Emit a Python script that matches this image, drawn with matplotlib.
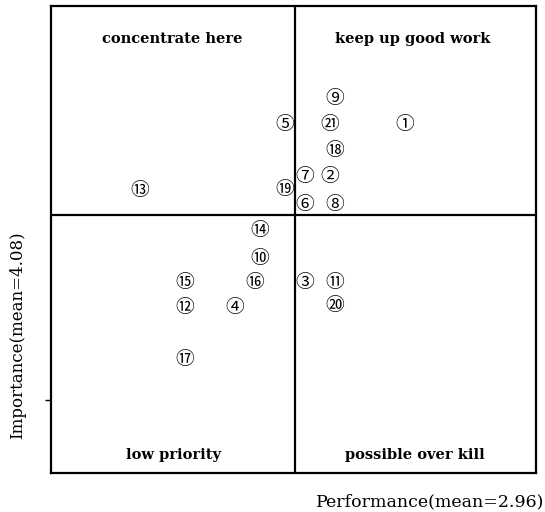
import matplotlib
matplotlib.use("Agg")
import matplotlib.pyplot as plt

# IPA data (performance, importance)
items = list(range(1, 22))
performance = [3.18, 3.03, 2.98, 2.84, 2.94, 2.98, 2.98, 3.04, 3.04, 2.89,
               3.04, 2.74, 2.65, 2.89, 2.74, 2.88, 2.74, 3.04, 2.94, 3.04, 3.03]
importance = [4.26, 4.156, 3.944, 3.894, 4.26, 4.10, 4.156, 4.10, 4.312, 3.992,
              3.944, 3.894, 4.128, 4.048, 3.944, 3.944, 3.79, 4.208, 4.13, 3.898, 4.26]
perf_mean = 2.96
imp_mean = 4.08
quadrants = ["concentrate here", "keep up good work", "low priority", "possible over kill"]

circled = [chr(0x2460 + i - 1) if i <= 20 else chr(0x3251 + i - 21) for i in items]

fig = plt.figure(figsize=(5.45, 5.12), dpi=100)
ax = fig.add_axes([0.0936, 0.0762, 0.8899, 0.9121])

ax.set_xlim(perf_mean - 0.488, perf_mean + 0.482)
ax.set_ylim(imp_mean - 0.516, imp_mean + 0.418)

ax.axvline(perf_mean, color="black", lw=1.6)
ax.axhline(imp_mean, color="black", lw=1.6)
for s in ax.spines.values():
    s.set_linewidth(1.6)

for x, y, c in zip(performance, importance, circled):
    ax.text(x, y, c, ha="center", va="center", fontsize=13.5,
            family=["Noto Sans CJK KR", "DejaVu Sans"])

# quadrant labels
qfont = dict(family="DejaVu Serif", fontsize=10.5, weight="bold", ha="center", va="center")
ax.text(0.251, 0.929, quadrants[0], transform=ax.transAxes, **qfont)
ax.text(0.745, 0.929, quadrants[1], transform=ax.transAxes, **qfont)
ax.text(0.252, 0.038, quadrants[2], transform=ax.transAxes, **qfont)
ax.text(0.751, 0.038, quadrants[3], transform=ax.transAxes, **qfont)

ax.set_xticks([])
ax.set_yticks([3.71])
ax.set_yticklabels([""])
ax.tick_params(axis="y", length=4, width=1)

fig.text(0.998, 1 - 502 / 512, "Performance(mean=%.2f)" % perf_mean, ha="right", va="center",
         family="DejaVu Serif", fontsize=12.5)
fig.text(18 / 545, 1 - 335 / 512, "Importance(mean=%.2f)" % imp_mean, ha="center", va="center",
         rotation=90, family="DejaVu Serif", fontsize=12)

fig.savefig("out.png", dpi=100)
